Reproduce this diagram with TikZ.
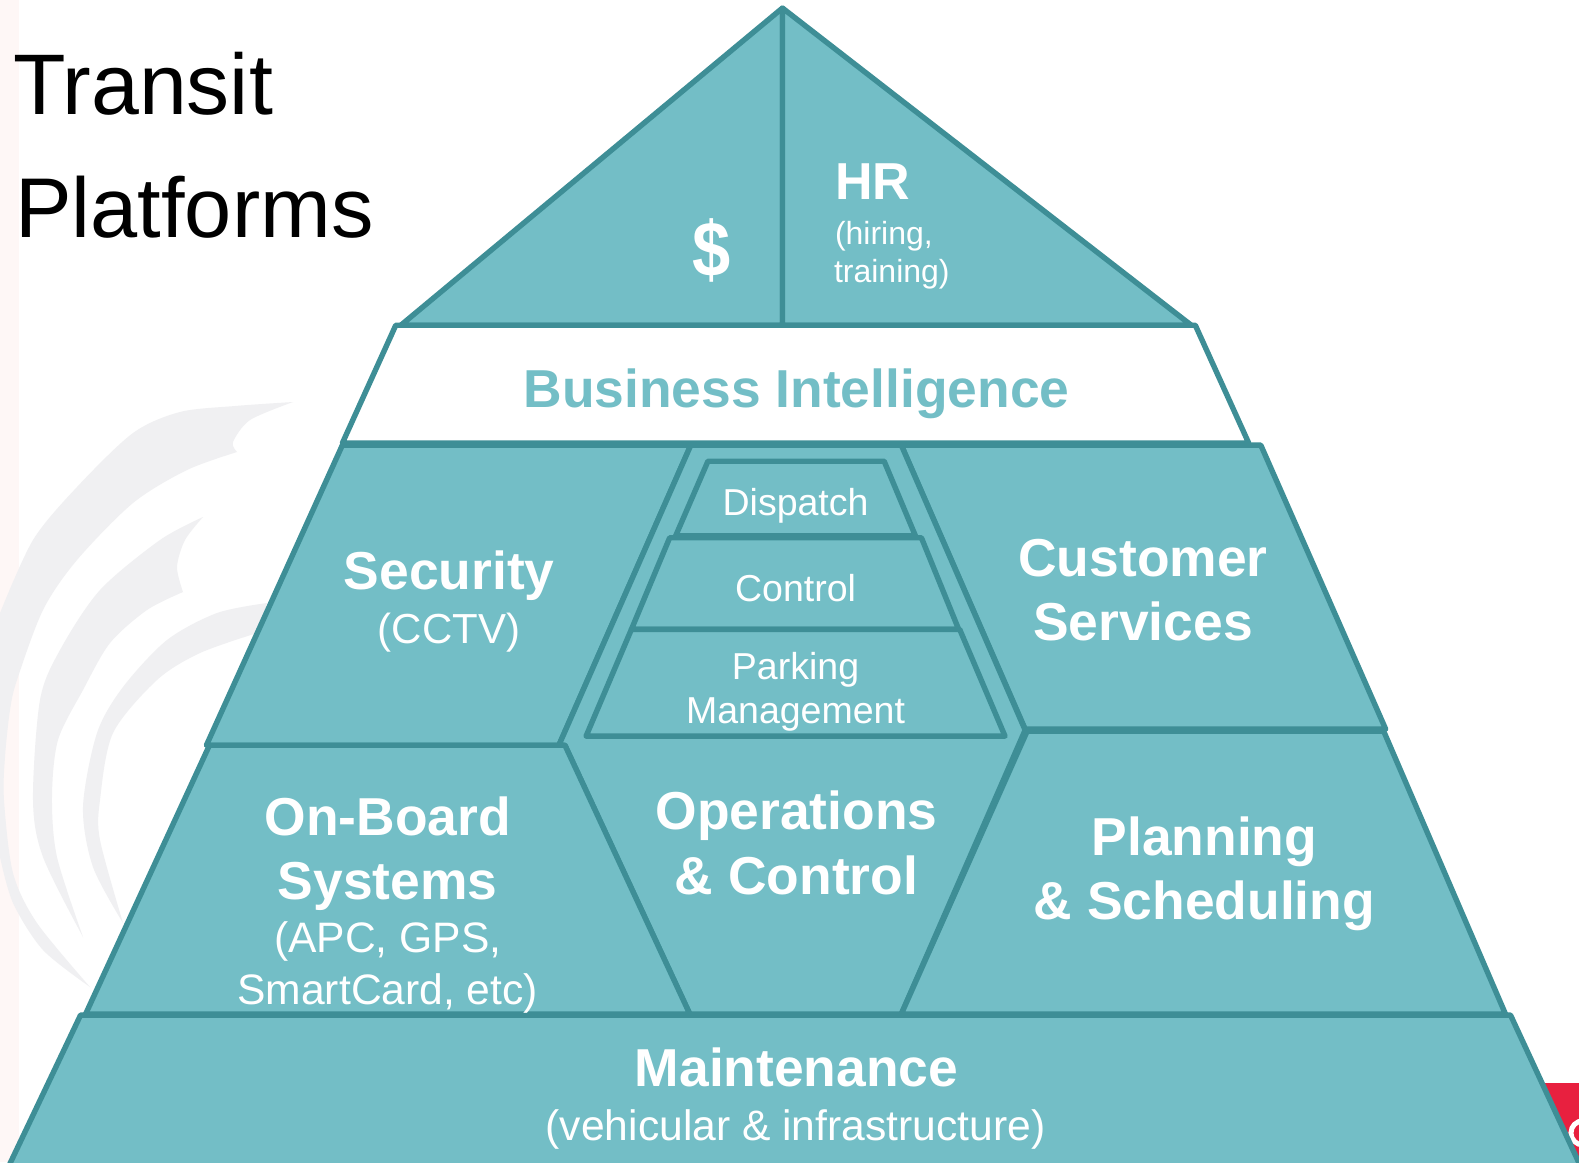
\documentclass[tikz,border=0pt]{standalone}
\usepackage{graphicx}
\usepackage{fontspec}
\setmainfont{Liberation Sans}
\definecolor{tealfill}{HTML}{73BEC6}
\definecolor{tealline}{HTML}{3E8E96}
\definecolor{swirl}{HTML}{F0F0F2}
\definecolor{redblock}{HTML}{E8203F}
\definecolor{leftstrip}{HTML}{FEF7F6}
\newcommand{\hd}{\fontsize{53.4}{63.5}\selectfont\bfseries}
\newcommand{\rg}{\fontsize{42.6}{51}\selectfont\mdseries}
\newcommand{\sm}{\fontsize{37.5}{44}\selectfont\mdseries}
\tikzset{
  panel/.style={draw=tealline,fill=tealfill,line width=5.4pt,line join=round},
  whitepanel/.style={draw=tealline,fill=white,line width=5.4pt,line join=round},
  lbl/.style={text=white,align=center,inner sep=0pt},
  swirlshape/.style={fill=swirl,draw=none}
}
\begin{document}
\begin{tikzpicture}[x=1.007pt,y=-1.007pt]
\useasboundingbox (0,0) rectangle (1568,1154);
\fill[white] (0,0) rectangle (1568,1154);
\fill[leftstrip] (0,0) rectangle (19,1154);
% watermark
\begin{scope}[x=1pt,y=-1pt]
\fill[swirlshape] plot[smooth] coordinates {(293,402) (235,406) (180,412) (133,433) (77,487) (33,540) (0,613)} -- (0,857) -- plot[smooth] coordinates {(0,857) (13,903) (43,950) (90,987)} -- plot[smooth] coordinates {(90,987) (37,923) (13,873) (4,800) (5,757) (10,710) (17,680) (43,610) (77,560) (133,503) (187,470) (237,452)} -- plot[smooth] coordinates {(237,452) (233,442) (250,420) (293,402)} -- cycle;
\fill[swirlshape] plot[smooth] coordinates {(203,517) (160,540) (100,590) (60,650) (40,700) (33,800) (43,857) (83,937)} -- plot[smooth] coordinates {(83,937) (57,857) (52,797) (58,740) (83,690) (110,643) (147,610) (183,592)} -- plot[smooth] coordinates {(183,592) (177,567) (185,540) (203,517)} -- cycle;
\fill[swirlshape] plot[smooth] coordinates {(267,603) (217,613) (167,640) (123,687) (97,733) (83,807) (93,867) (123,923)} -- plot[smooth] coordinates {(123,923) (100,840) (100,800) (113,733) (157,680) (200,653) (257,633)} -- cycle;
\end{scope}
% red block
\fill[redblock] (1520,1075) rectangle (1568,1154);
\draw[white,line width=5pt] (1572,1125) circle (12);
% pyramid
\draw[panel] (777,8) -- (398,323) -- (777,323) -- cycle;
\draw[panel] (777,8) -- (1183,323) -- (777,323) -- cycle;
\draw[whitepanel] (393,323) -- (1187,323) -- (1240,440) -- (340,440) -- cycle;
\draw[panel] (340,442) -- (686,442) -- (555,740) -- (205,740) -- cycle;
\draw[panel] (895,442) -- (1252,442) -- (1376,724) -- (1018,724) -- cycle;
\draw[panel] (686,442) -- (895,442) -- (1018,725) -- (895,1007) -- (685,1007) -- (561,740) -- (555,740) -- cycle;
\draw[panel] (208,740) -- (561,740) -- (685,1007) -- (85,1007) -- cycle;
\draw[panel] (1020,726) -- (1374,726) -- (1495,1007) -- (895,1007) -- cycle;
\draw[panel] (80,1008) -- (1500,1008) -- (1575,1170) -- (3,1170) -- cycle;
\draw[panel] (703,458) -- (878,458) -- (909,532) -- (671,532) -- cycle;
\draw[panel] (665,534) -- (915,534) -- (952,625) -- (627,625) -- cycle;
\draw[panel] (627,625) -- (953,625) -- (998,731) -- (582,731) -- cycle;
% texts
\node[inner sep=0pt,anchor=base west] (title1) at (13,114) {\fontsize{86}{86}\selectfont Transit};
\node[inner sep=0pt,anchor=base west] (title2) at (15,236) {\fontsize{84.8}{84.8}\selectfont Platforms};
\node[lbl,anchor=base] (dollar) at (707,275) {\scalebox{0.88}[1]{\fontsize{78}{78}\selectfont\bfseries \$}};
\node[lbl,anchor=base west] (hr) at (829,198) {\fontsize{52}{52}\selectfont\bfseries HR};
\node[lbl,anchor=base west] (hr1) at (829,243) {\fontsize{32}{32}\selectfont (hiring,};
\node[lbl,anchor=base west] (hr2) at (828,281) {\fontsize{32}{32}\selectfont training)};
\node[lbl,anchor=base,text=tealfill] (bi) at (791,405) {\hd Business Intelligence};
\node[lbl,anchor=base] (sec1) at (446,585) {\hd Security};
\node[lbl,anchor=base] (sec2) at (446,639) {\fontsize{42}{51}\selectfont (CCTV)};
\node[lbl,anchor=base] (cs1) at (1135,572) {\hd Customer};
\node[lbl,anchor=base] (cs2) at (1135,636) {\hd Services};
\node[lbl,anchor=base] (disp) at (790,512) {\sm Dispatch};
\node[lbl,anchor=base] (ctrl) at (790,597) {\sm Control};
\node[lbl,anchor=base] (park1) at (790,675) {\sm Parking};
\node[lbl,anchor=base] (park2) at (790,718) {\sm Management};
\node[lbl,anchor=base] (ob1) at (385,830) {\hd On-Board};
\node[lbl,anchor=base] (ob2) at (385,893) {\hd Systems};
\node[lbl,anchor=base] (ob3) at (385,946) {\rg (APC, GPS,};
\node[lbl,anchor=base] (ob4) at (385,997) {\rg SmartCard, etc)};
\node[lbl,anchor=base] (op1) at (791,824) {\hd Operations};
\node[lbl,anchor=base] (op2) at (791,888) {\hd \& Control};
\node[lbl,anchor=base] (pl1) at (1196,850) {\hd Planning};
\node[lbl,anchor=base] (pl2) at (1196,913) {\hd \& Scheduling};
\node[lbl,anchor=base] (m1) at (791,1079) {\hd Maintenance};
\node[lbl,anchor=base] (m2) at (790,1133) {\rg (vehicular \& infrastructure)};
\end{tikzpicture}
\end{document}
